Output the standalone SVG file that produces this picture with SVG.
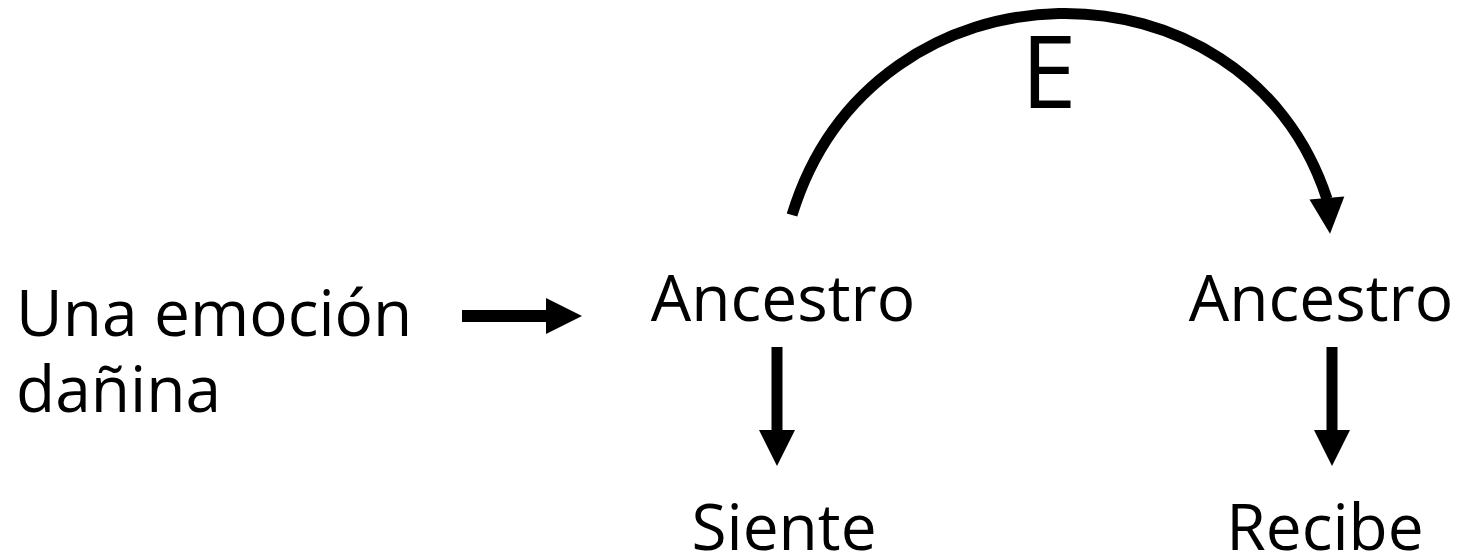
<svg xmlns="http://www.w3.org/2000/svg" width="1466" height="555" viewBox="0 0 1466 555">
  <style>
    .lbl { font-family: "Open Sans", "Noto Sans", "DejaVu Sans", sans-serif; font-size: 64px; fill: #000; }
    .big { font-family: "Open Sans", "Noto Sans", "DejaVu Sans", sans-serif; font-size: 100px; fill: #000; }
    .conn { fill: none; stroke: #000; }
  </style>
  <defs>
    <marker id="head" markerUnits="userSpaceOnUse" markerWidth="40" markerHeight="40" refX="1" refY="18" orient="auto" overflow="visible">
      <path d="M0,0 L36,18 L0,36 Z" fill="#000"/>
    </marker>
    <marker id="headArc" markerUnits="userSpaceOnUse" markerWidth="40" markerHeight="40" refX="1" refY="17.5" orient="85" overflow="visible">
      <path d="M0,0 L36,17.5 L0,35 Z" fill="#000"/>
    </marker>
  </defs>
  <rect width="1466" height="555" fill="#fff"/>

  <g id="connectors">
    <line class="conn" x1="462" y1="316" x2="547" y2="316" stroke-width="12" marker-end="url(#head)"/>
    <line class="conn" x1="777" y1="347" x2="777" y2="431" stroke-width="11" marker-end="url(#head)"/>
    <line class="conn" x1="1332" y1="347" x2="1332" y2="431" stroke-width="11" marker-end="url(#head)"/>
    <path class="conn" d="M792,215 C873,-50 1245,-52 1327,199" stroke-width="11" marker-end="url(#headArc)"/>
  </g>

  <g id="node-emocion">
    <text class="lbl" x="16" y="336">Una emoción</text>
    <text class="lbl" x="16" y="412">dañina</text>
  </g>
  <g id="node-ancestro1">
    <text class="lbl" x="783" y="321" text-anchor="middle">Ancestro</text>
  </g>
  <g id="node-ancestro2">
    <text class="lbl" x="1321" y="321" text-anchor="middle">Ancestro</text>
  </g>
  <g id="node-siente">
    <text class="lbl" x="784" y="550" text-anchor="middle">Siente</text>
  </g>
  <g id="node-recibe">
    <text class="lbl" x="1325" y="550" text-anchor="middle">Recibe</text>
  </g>
  <g id="label-e">
    <text class="big" x="1021" y="108">E</text>
  </g>
</svg>
